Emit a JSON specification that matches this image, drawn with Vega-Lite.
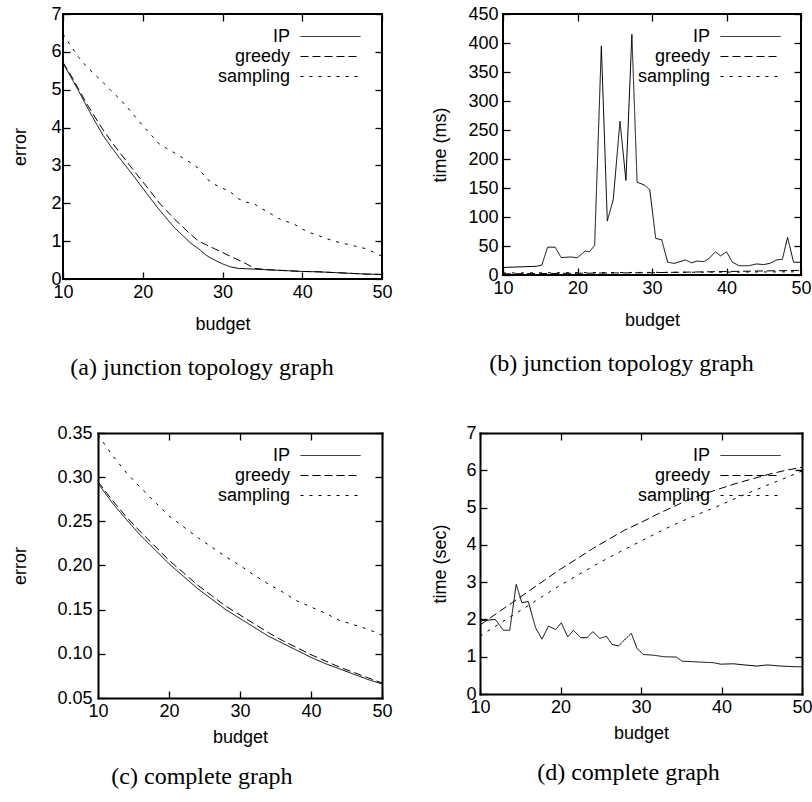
{
 "$schema": "https://vega.github.io/schema/vega-lite/v6.json",
 "background": "white",
 "padding": {"left": 10, "top": 4, "right": 0, "bottom": 2},
 "config": {
  "view": {"stroke": "black", "strokeWidth": 2},
  "axis": {"grid": false, "domain": false, "domainColor": "black", "domainWidth": 2, "domainCap": "square", "tickColor": "black", "tickSize": -7, "tickWidth": 1.3, "labelFont": "Liberation Sans", "labelFontSize": 18, "labelColor": "black", "titleFont": "Liberation Sans", "titleFontSize": 18, "titleFontWeight": "normal", "titleColor": "black", "labelFlush": false, "labelOverlap": false},
  "axisX": {"labelPadding": 11, "titlePadding": 8},
  "legend": {"symbolType": "M-3,0H3", "symbolSize": 400, "symbolStrokeWidth": 1, "symbolStrokeColor": "black", "symbolFillColor": "transparent", "labelAlign": "right", "labelOffset": -51, "labelFont": "Liberation Sans", "labelFontSize": 18, "labelColor": "black", "rowPadding": 0, "padding": 0},
  "title": {"font": "Liberation Serif", "fontSize": 24, "fontWeight": "normal", "color": "black", "orient": "bottom", "offset": 20, "frame": "bounds", "anchor": "middle"}
 },
 "datasets": {
  "a": [
   {"budget":10,"value":5.7,"method":"IP"},{"budget":11,"value":5.33,"method":"IP"},{"budget":12,"value":4.95,"method":"IP"},{"budget":13,"value":4.55,"method":"IP"},{"budget":14,"value":4.17,"method":"IP"},{"budget":15,"value":3.8,"method":"IP"},{"budget":16,"value":3.5,"method":"IP"},{"budget":17,"value":3.22,"method":"IP"},{"budget":18,"value":2.95,"method":"IP"},{"budget":19,"value":2.68,"method":"IP"},{"budget":20,"value":2.4,"method":"IP"},{"budget":21,"value":2.12,"method":"IP"},{"budget":22,"value":1.85,"method":"IP"},{"budget":23,"value":1.6,"method":"IP"},{"budget":24,"value":1.35,"method":"IP"},{"budget":25,"value":1.15,"method":"IP"},{"budget":26,"value":0.95,"method":"IP"},{"budget":27,"value":0.8,"method":"IP"},{"budget":28,"value":0.62,"method":"IP"},{"budget":29,"value":0.5,"method":"IP"},{"budget":30,"value":0.4,"method":"IP"},{"budget":31,"value":0.32,"method":"IP"},{"budget":32,"value":0.28,"method":"IP"},{"budget":33,"value":0.27,"method":"IP"},{"budget":34,"value":0.26,"method":"IP"},{"budget":35,"value":0.25,"method":"IP"},{"budget":36,"value":0.24,"method":"IP"},{"budget":38,"value":0.22,"method":"IP"},{"budget":40,"value":0.2,"method":"IP"},{"budget":42,"value":0.19,"method":"IP"},{"budget":44,"value":0.17,"method":"IP"},{"budget":46,"value":0.15,"method":"IP"},{"budget":48,"value":0.13,"method":"IP"},{"budget":50,"value":0.12,"method":"IP"},
   {"budget":10,"value":5.72,"method":"greedy"},{"budget":11,"value":5.38,"method":"greedy"},{"budget":12,"value":5.0,"method":"greedy"},{"budget":13,"value":4.62,"method":"greedy"},{"budget":14,"value":4.28,"method":"greedy"},{"budget":15,"value":3.95,"method":"greedy"},{"budget":16,"value":3.65,"method":"greedy"},{"budget":17,"value":3.37,"method":"greedy"},{"budget":18,"value":3.1,"method":"greedy"},{"budget":19,"value":2.83,"method":"greedy"},{"budget":20,"value":2.57,"method":"greedy"},{"budget":21,"value":2.3,"method":"greedy"},{"budget":22,"value":2.03,"method":"greedy"},{"budget":23,"value":1.8,"method":"greedy"},{"budget":24,"value":1.58,"method":"greedy"},{"budget":25,"value":1.38,"method":"greedy"},{"budget":26,"value":1.18,"method":"greedy"},{"budget":27,"value":1.0,"method":"greedy"},{"budget":28,"value":0.9,"method":"greedy"},{"budget":29,"value":0.8,"method":"greedy"},{"budget":30,"value":0.7,"method":"greedy"},{"budget":31,"value":0.6,"method":"greedy"},{"budget":32,"value":0.5,"method":"greedy"},{"budget":33,"value":0.4,"method":"greedy"},{"budget":34,"value":0.28,"method":"greedy"},{"budget":35,"value":0.26,"method":"greedy"},{"budget":36,"value":0.24,"method":"greedy"},{"budget":38,"value":0.22,"method":"greedy"},{"budget":40,"value":0.2,"method":"greedy"},{"budget":42,"value":0.19,"method":"greedy"},{"budget":44,"value":0.17,"method":"greedy"},{"budget":46,"value":0.15,"method":"greedy"},{"budget":48,"value":0.13,"method":"greedy"},{"budget":50,"value":0.12,"method":"greedy"},
   {"budget":10,"value":6.47,"method":"sampling"},{"budget":11,"value":6.15,"method":"sampling"},{"budget":12,"value":5.85,"method":"sampling"},{"budget":13,"value":5.6,"method":"sampling"},{"budget":14,"value":5.4,"method":"sampling"},{"budget":15,"value":5.2,"method":"sampling"},{"budget":16,"value":4.98,"method":"sampling"},{"budget":17,"value":4.78,"method":"sampling"},{"budget":18,"value":4.55,"method":"sampling"},{"budget":19,"value":4.3,"method":"sampling"},{"budget":20,"value":4.05,"method":"sampling"},{"budget":21,"value":3.82,"method":"sampling"},{"budget":22,"value":3.58,"method":"sampling"},{"budget":23,"value":3.45,"method":"sampling"},{"budget":24,"value":3.33,"method":"sampling"},{"budget":25,"value":3.2,"method":"sampling"},{"budget":26,"value":3.07,"method":"sampling"},{"budget":27,"value":2.92,"method":"sampling"},{"budget":28,"value":2.65,"method":"sampling"},{"budget":29,"value":2.5,"method":"sampling"},{"budget":30,"value":2.4,"method":"sampling"},{"budget":31,"value":2.3,"method":"sampling"},{"budget":32,"value":2.12,"method":"sampling"},{"budget":33,"value":2.03,"method":"sampling"},{"budget":34,"value":1.98,"method":"sampling"},{"budget":35,"value":1.85,"method":"sampling"},{"budget":36,"value":1.73,"method":"sampling"},{"budget":37,"value":1.6,"method":"sampling"},{"budget":38,"value":1.52,"method":"sampling"},{"budget":39,"value":1.45,"method":"sampling"},{"budget":40,"value":1.32,"method":"sampling"},{"budget":41,"value":1.22,"method":"sampling"},{"budget":42,"value":1.15,"method":"sampling"},{"budget":43,"value":1.07,"method":"sampling"},{"budget":44,"value":1.0,"method":"sampling"},{"budget":45,"value":0.95,"method":"sampling"},{"budget":46,"value":0.9,"method":"sampling"},{"budget":47,"value":0.85,"method":"sampling"},{"budget":48,"value":0.8,"method":"sampling"},{"budget":49,"value":0.7,"method":"sampling"},{"budget":50,"value":0.6,"method":"sampling"}
  ],
  "b": [
   {"budget":10,"value":13,"method":"IP"},{"budget":14.5,"value":15,"method":"IP"},{"budget":15.2,"value":17,"method":"IP"},{"budget":16,"value":48,"method":"IP"},{"budget":17,"value":48,"method":"IP"},{"budget":17.8,"value":30,"method":"IP"},{"budget":19,"value":31,"method":"IP"},{"budget":20,"value":30,"method":"IP"},{"budget":21,"value":41,"method":"IP"},{"budget":21.6,"value":40,"method":"IP"},{"budget":22.3,"value":51,"method":"IP"},{"budget":23.2,"value":395,"method":"IP"},{"budget":24,"value":93,"method":"IP"},{"budget":24.8,"value":130,"method":"IP"},{"budget":25.7,"value":265,"method":"IP"},{"budget":26.5,"value":163,"method":"IP"},{"budget":27.3,"value":415,"method":"IP"},{"budget":28,"value":160,"method":"IP"},{"budget":29,"value":155,"method":"IP"},{"budget":29.7,"value":147,"method":"IP"},{"budget":30.5,"value":63,"method":"IP"},{"budget":31.3,"value":61,"method":"IP"},{"budget":32.1,"value":22,"method":"IP"},{"budget":33,"value":20,"method":"IP"},{"budget":34.5,"value":26,"method":"IP"},{"budget":35.3,"value":21,"method":"IP"},{"budget":36,"value":24,"method":"IP"},{"budget":37,"value":23,"method":"IP"},{"budget":37.7,"value":29,"method":"IP"},{"budget":38.5,"value":40,"method":"IP"},{"budget":39.2,"value":33,"method":"IP"},{"budget":40,"value":40,"method":"IP"},{"budget":40.8,"value":22,"method":"IP"},{"budget":41.7,"value":16,"method":"IP"},{"budget":43,"value":16,"method":"IP"},{"budget":44,"value":19,"method":"IP"},{"budget":45,"value":18,"method":"IP"},{"budget":45.8,"value":20,"method":"IP"},{"budget":46.7,"value":26,"method":"IP"},{"budget":47.5,"value":27,"method":"IP"},{"budget":48.2,"value":65,"method":"IP"},{"budget":49,"value":22,"method":"IP"},{"budget":50,"value":22,"method":"IP"},
   {"budget":10,"value":2,"method":"greedy"},{"budget":15,"value":2.5,"method":"greedy"},{"budget":20,"value":3,"method":"greedy"},{"budget":25,"value":3.5,"method":"greedy"},{"budget":30,"value":4,"method":"greedy"},{"budget":35,"value":5,"method":"greedy"},{"budget":40,"value":6,"method":"greedy"},{"budget":45,"value":7,"method":"greedy"},{"budget":50,"value":8,"method":"greedy"},
   {"budget":10,"value":3.5,"method":"sampling"},{"budget":20,"value":4,"method":"sampling"},{"budget":30,"value":4.5,"method":"sampling"},{"budget":40,"value":5,"method":"sampling"},{"budget":50,"value":5.5,"method":"sampling"}
  ],
  "c": [
   {"budget":10,"value":0.293,"method":"IP"},{"budget":12,"value":0.271,"method":"IP"},{"budget":14,"value":0.252,"method":"IP"},{"budget":16,"value":0.234,"method":"IP"},{"budget":18,"value":0.218,"method":"IP"},{"budget":20,"value":0.202,"method":"IP"},{"budget":22,"value":0.188,"method":"IP"},{"budget":24,"value":0.174,"method":"IP"},{"budget":26,"value":0.162,"method":"IP"},{"budget":28,"value":0.15,"method":"IP"},{"budget":30,"value":0.14,"method":"IP"},{"budget":32,"value":0.13,"method":"IP"},{"budget":34,"value":0.12,"method":"IP"},{"budget":36,"value":0.112,"method":"IP"},{"budget":38,"value":0.104,"method":"IP"},{"budget":40,"value":0.096,"method":"IP"},{"budget":42,"value":0.089,"method":"IP"},{"budget":44,"value":0.083,"method":"IP"},{"budget":46,"value":0.077,"method":"IP"},{"budget":48,"value":0.071,"method":"IP"},{"budget":50,"value":0.066,"method":"IP"},
   {"budget":10,"value":0.295,"method":"greedy"},{"budget":12,"value":0.274,"method":"greedy"},{"budget":14,"value":0.255,"method":"greedy"},{"budget":16,"value":0.238,"method":"greedy"},{"budget":18,"value":0.222,"method":"greedy"},{"budget":20,"value":0.206,"method":"greedy"},{"budget":22,"value":0.192,"method":"greedy"},{"budget":24,"value":0.178,"method":"greedy"},{"budget":26,"value":0.166,"method":"greedy"},{"budget":28,"value":0.154,"method":"greedy"},{"budget":30,"value":0.144,"method":"greedy"},{"budget":32,"value":0.134,"method":"greedy"},{"budget":34,"value":0.124,"method":"greedy"},{"budget":36,"value":0.115,"method":"greedy"},{"budget":38,"value":0.107,"method":"greedy"},{"budget":40,"value":0.099,"method":"greedy"},{"budget":42,"value":0.092,"method":"greedy"},{"budget":44,"value":0.085,"method":"greedy"},{"budget":46,"value":0.079,"method":"greedy"},{"budget":48,"value":0.073,"method":"greedy"},{"budget":50,"value":0.067,"method":"greedy"},
   {"budget":10,"value":0.348,"method":"sampling"},{"budget":12,"value":0.325,"method":"sampling"},{"budget":14,"value":0.305,"method":"sampling"},{"budget":16,"value":0.288,"method":"sampling"},{"budget":18,"value":0.272,"method":"sampling"},{"budget":20,"value":0.256,"method":"sampling"},{"budget":22,"value":0.244,"method":"sampling"},{"budget":24,"value":0.232,"method":"sampling"},{"budget":26,"value":0.221,"method":"sampling"},{"budget":28,"value":0.21,"method":"sampling"},{"budget":30,"value":0.2,"method":"sampling"},{"budget":32,"value":0.189,"method":"sampling"},{"budget":34,"value":0.179,"method":"sampling"},{"budget":36,"value":0.17,"method":"sampling"},{"budget":38,"value":0.16,"method":"sampling"},{"budget":40,"value":0.153,"method":"sampling"},{"budget":42,"value":0.146,"method":"sampling"},{"budget":44,"value":0.138,"method":"sampling"},{"budget":46,"value":0.133,"method":"sampling"},{"budget":48,"value":0.128,"method":"sampling"},{"budget":50,"value":0.121,"method":"sampling"}
  ],
  "d": [
   {"budget":10,"value":1.96,"method":"IP"},{"budget":11.9,"value":2.0,"method":"IP"},{"budget":12.9,"value":1.71,"method":"IP"},{"budget":13.7,"value":1.71,"method":"IP"},{"budget":14.5,"value":2.94,"method":"IP"},{"budget":15.2,"value":2.45,"method":"IP"},{"budget":16,"value":2.48,"method":"IP"},{"budget":16.9,"value":1.78,"method":"IP"},{"budget":17.7,"value":1.47,"method":"IP"},{"budget":18.5,"value":1.82,"method":"IP"},{"budget":19.4,"value":1.73,"method":"IP"},{"budget":20.1,"value":1.91,"method":"IP"},{"budget":20.9,"value":1.53,"method":"IP"},{"budget":21.6,"value":1.71,"method":"IP"},{"budget":22.5,"value":1.51,"method":"IP"},{"budget":23.3,"value":1.51,"method":"IP"},{"budget":24,"value":1.67,"method":"IP"},{"budget":24.9,"value":1.49,"method":"IP"},{"budget":25.7,"value":1.55,"method":"IP"},{"budget":26.4,"value":1.33,"method":"IP"},{"budget":27.2,"value":1.29,"method":"IP"},{"budget":28.8,"value":1.63,"method":"IP"},{"budget":29.5,"value":1.22,"method":"IP"},{"budget":30.3,"value":1.06,"method":"IP"},{"budget":31.6,"value":1.04,"method":"IP"},{"budget":32.8,"value":1.0,"method":"IP"},{"budget":34.4,"value":0.99,"method":"IP"},{"budget":35.1,"value":0.88,"method":"IP"},{"budget":37,"value":0.86,"method":"IP"},{"budget":39,"value":0.84,"method":"IP"},{"budget":39.9,"value":0.8,"method":"IP"},{"budget":41.5,"value":0.81,"method":"IP"},{"budget":42.8,"value":0.78,"method":"IP"},{"budget":44.4,"value":0.75,"method":"IP"},{"budget":45.7,"value":0.78,"method":"IP"},{"budget":47.3,"value":0.75,"method":"IP"},{"budget":49.4,"value":0.73,"method":"IP"},{"budget":50,"value":0.73,"method":"IP"},
   {"budget":10,"value":1.85,"method":"greedy"},{"budget":12,"value":2.15,"method":"greedy"},{"budget":14,"value":2.45,"method":"greedy"},{"budget":16,"value":2.75,"method":"greedy"},{"budget":18,"value":3.05,"method":"greedy"},{"budget":20,"value":3.35,"method":"greedy"},{"budget":22,"value":3.62,"method":"greedy"},{"budget":24,"value":3.9,"method":"greedy"},{"budget":26,"value":4.15,"method":"greedy"},{"budget":28,"value":4.4,"method":"greedy"},{"budget":30,"value":4.6,"method":"greedy"},{"budget":32,"value":4.82,"method":"greedy"},{"budget":34,"value":5.02,"method":"greedy"},{"budget":36,"value":5.22,"method":"greedy"},{"budget":38,"value":5.38,"method":"greedy"},{"budget":40,"value":5.52,"method":"greedy"},{"budget":42,"value":5.66,"method":"greedy"},{"budget":44,"value":5.78,"method":"greedy"},{"budget":46,"value":5.9,"method":"greedy"},{"budget":48,"value":6.0,"method":"greedy"},{"budget":50,"value":6.08,"method":"greedy"},
   {"budget":10,"value":1.55,"method":"sampling"},{"budget":12,"value":1.83,"method":"sampling"},{"budget":14,"value":2.1,"method":"sampling"},{"budget":16,"value":2.37,"method":"sampling"},{"budget":18,"value":2.65,"method":"sampling"},{"budget":20,"value":2.92,"method":"sampling"},{"budget":22,"value":3.17,"method":"sampling"},{"budget":24,"value":3.42,"method":"sampling"},{"budget":26,"value":3.66,"method":"sampling"},{"budget":28,"value":3.88,"method":"sampling"},{"budget":30,"value":4.1,"method":"sampling"},{"budget":32,"value":4.32,"method":"sampling"},{"budget":34,"value":4.53,"method":"sampling"},{"budget":36,"value":4.72,"method":"sampling"},{"budget":38,"value":4.9,"method":"sampling"},{"budget":40,"value":5.08,"method":"sampling"},{"budget":42,"value":5.27,"method":"sampling"},{"budget":44,"value":5.45,"method":"sampling"},{"budget":46,"value":5.63,"method":"sampling"},{"budget":48,"value":5.8,"method":"sampling"},{"budget":50,"value":5.98,"method":"sampling"}
  ]
 },
 "columns": 2,
 "align": "all",
 "bounds": "flush",
 "spacing": {"row": 154, "column": 121},
 "resolve": {"scale": {"strokeDash": "independent"}, "legend": {"strokeDash": "independent"}},
 "concat": [
   {"width": 319, "height": 265, "data": {"name": "a"},
    "title": {"text": "(a) junction topology graph", "offset": 23},
    "layer": [
     {"mark": {"type": "line", "color": "black", "strokeWidth": 1},
      "encoding": {
       "x": {"field": "budget", "type": "quantitative", "scale": {"domain": [10, 50], "nice": false}, "axis": {"title": "budget", "values": [10, 20, 30, 40, 50], "titlePadding": 14}},
       "y": {"field": "value", "type": "quantitative", "scale": {"domain": [0, 7], "nice": false}, "axis": {"title": "error", "values": [0, 1, 2, 3, 4, 5, 6, 7], "labelPadding": 9, "titlePadding": 21}},
       "strokeDash": {"field": "method", "type": "nominal", "scale": {"domain": ["IP", "greedy", "sampling"], "range": [[1, 0], [8, 4], [3, 6]]}, "legend": {"title": null, "orient": "none", "legendX": 257, "legendY": 12}}}},
     {"mark": {"type": "line", "opacity": 0},
      "encoding": {
       "x": {"field": "budget", "type": "quantitative", "scale": {"domain": [10, 50], "nice": false}, "axis": {"orient": "top", "labels": false, "title": null, "values": [10, 20, 30, 40, 50]}},
       "y": {"field": "value", "type": "quantitative", "scale": {"domain": [0, 7], "nice": false}, "axis": {"orient": "right", "labels": false, "title": null, "values": [0, 1, 2, 3, 4, 5, 6, 7]}},
       "detail": {"field": "method"}}}
    ],
    "resolve": {"axis": {"x": "independent", "y": "independent"}}},
   {"width": 298, "height": 261, "data": {"name": "b"},
    "title": {"text": "(b) junction topology graph", "offset": 23},
    "layer": [
     {"mark": {"type": "line", "color": "black", "strokeWidth": 1},
      "encoding": {
       "x": {"field": "budget", "type": "quantitative", "scale": {"domain": [10, 50], "nice": false}, "axis": {"title": "budget", "values": [10, 20, 30, 40, 50], "titlePadding": 14}},
       "y": {"field": "value", "type": "quantitative", "scale": {"domain": [0, 450], "nice": false}, "axis": {"title": "time (ms)", "values": [0, 50, 100, 150, 200, 250, 300, 350, 400, 450], "labelPadding": 12, "titlePadding": 18}},
       "strokeDash": {"field": "method", "type": "nominal", "scale": {"domain": ["IP", "greedy", "sampling"], "range": [[1, 0], [8, 4], [3, 6]]}, "legend": {"title": null, "orient": "none", "legendX": 237, "legendY": 12}}}},
     {"mark": {"type": "line", "opacity": 0},
      "encoding": {
       "x": {"field": "budget", "type": "quantitative", "scale": {"domain": [10, 50], "nice": false}, "axis": {"orient": "top", "labels": false, "title": null, "values": [10, 20, 30, 40, 50]}},
       "y": {"field": "value", "type": "quantitative", "scale": {"domain": [0, 450], "nice": false}, "axis": {"orient": "right", "labels": false, "title": null, "values": [0, 50, 100, 150, 200, 250, 300, 350, 400, 450]}},
       "detail": {"field": "method"}}}
    ],
    "resolve": {"axis": {"x": "independent", "y": "independent"}}},
   {"width": 319, "height": 265, "data": {"name": "c"},
    "view": {"stroke": null},
    "title": {"text": "(c) complete graph", "offset": 19},
    "layer": [
     {"mark": {"type": "line", "color": "black", "strokeWidth": 1},
      "encoding": {
       "x": {"field": "budget", "type": "quantitative", "scale": {"domain": [10, 50], "nice": false, "range": [35, 319]}, "axis": {"title": "budget", "values": [10, 20, 30, 40, 50], "domain": true}},
       "y": {"field": "value", "type": "quantitative", "scale": {"domain": [0.05, 0.35], "nice": false, "zero": false}, "axis": {"title": "error", "values": [0.05, 0.1, 0.15, 0.2, 0.25, 0.3, 0.35], "format": ".2f", "labelPadding": 13, "titlePadding": 27, "offset": -35, "domain": true}},
       "strokeDash": {"field": "method", "type": "nominal", "scale": {"domain": ["IP", "greedy", "sampling"], "range": [[1, 0], [8, 4], [3, 6]]}, "legend": {"title": null, "orient": "none", "legendX": 257, "legendY": 12}}}},
     {"mark": {"type": "line", "opacity": 0},
      "encoding": {
       "x": {"field": "budget", "type": "quantitative", "scale": {"domain": [10, 50], "nice": false, "range": [35, 319]}, "axis": {"orient": "top", "labels": false, "title": null, "values": [10, 20, 30, 40, 50], "domain": true}},
       "y": {"field": "value", "type": "quantitative", "scale": {"domain": [0.05, 0.35], "nice": false, "zero": false}, "axis": {"orient": "right", "labels": false, "title": null, "values": [0.05, 0.1, 0.15, 0.2, 0.25, 0.3, 0.35], "domain": true}},
       "detail": {"field": "method"}}}
    ],
    "resolve": {"axis": {"x": "independent", "y": "independent"}}},
   {"width": 299, "height": 261, "data": {"name": "d"},
    "view": {"stroke": null},
    "title": {"text": "(d) complete graph", "offset": 19},
    "layer": [
     {"mark": {"type": "line", "color": "black", "strokeWidth": 1},
      "encoding": {
       "x": {"field": "budget", "type": "quantitative", "scale": {"domain": [10, 50], "nice": false, "range": [-23, 299]}, "axis": {"title": "budget", "values": [10, 20, 30, 40, 50], "domain": true}},
       "y": {"field": "value", "type": "quantitative", "scale": {"domain": [0, 7], "nice": false}, "axis": {"title": "time (sec)", "values": [0, 1, 2, 3, 4, 5, 6, 7], "labelPadding": 11, "titlePadding": 16, "offset": 23, "domain": true}},
       "strokeDash": {"field": "method", "type": "nominal", "scale": {"domain": ["IP", "greedy", "sampling"], "range": [[1, 0], [8, 4], [3, 6]]}, "legend": {"title": null, "orient": "none", "legendX": 237, "legendY": 12}}}},
     {"mark": {"type": "line", "opacity": 0},
      "encoding": {
       "x": {"field": "budget", "type": "quantitative", "scale": {"domain": [10, 50], "nice": false, "range": [-23, 299]}, "axis": {"orient": "top", "labels": false, "title": null, "values": [10, 20, 30, 40, 50], "domain": true}},
       "y": {"field": "value", "type": "quantitative", "scale": {"domain": [0, 7], "nice": false}, "axis": {"orient": "right", "labels": false, "title": null, "values": [0, 1, 2, 3, 4, 5, 6, 7], "domain": true}},
       "detail": {"field": "method"}}}
    ],
    "resolve": {"axis": {"x": "independent", "y": "independent"}}}
 ]
}
